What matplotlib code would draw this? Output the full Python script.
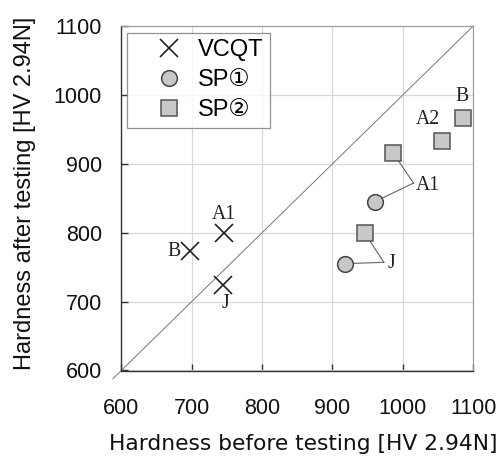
import matplotlib
matplotlib.use("Agg")
import matplotlib.pyplot as plt

plt.rcParams['font.family'] = ['Liberation Sans', 'DejaVu Sans', 'Noto Sans CJK JP']

vcqt_x = [746, 698, 744]
vcqt_y = [799, 773, 724]
vcqt_lab = ["A1", "B", "J"]

sp1_x = [960, 918]
sp1_y = [845, 755]
sp1_lab = ["A1", "J"]

sp2_x = [986, 1056, 1086, 946]
sp2_y = [916, 933, 966, 799]
sp2_lab = ["A1", "A2", "B", "J"]

ticks = [600, 700, 800, 900, 1000, 1100]

W, H = 503, 459
fig = plt.figure(figsize=(W / 100, H / 100), dpi=100)
L, R, T, B = 121.3, 473.3, 26.0, 370.5
ax = fig.add_axes([L / W, 1 - B / H, (R - L) / W, (B - T) / H])
ax.set_xlim(600, 1100)
ax.set_ylim(600, 1100)
ax.set_xticks(ticks)
ax.set_yticks(ticks)
ax.grid(True, color='#d8d8d8', linewidth=0.9, zorder=0)
ax.set_axisbelow(True)
ax.plot([588, 1100], [588, 1100], color='#777777', linewidth=0.7, zorder=1,
        clip_on=False)

ax.plot(vcqt_x, vcqt_y, linestyle='none', marker='x', markersize=12.5,
        markeredgewidth=1.2, color='#222222', label='VCQT', zorder=4)
ax.plot(sp1_x, sp1_y, linestyle='none', marker='o', markersize=11.3,
        markerfacecolor='#c8c8c8', markeredgecolor='#444444', markeredgewidth=1.1,
        label='SP①', zorder=4)
ax.plot(sp2_x, sp2_y, linestyle='none', marker='s', markersize=12,
        markerfacecolor='#c8c8c8', markeredgecolor='#555555', markeredgewidth=1.1,
        label='SP②', zorder=4)

serif = dict(family='Liberation Serif', fontsize=14.2, color='#222222')
# VCQT labels
ax.text(vcqt_x[0], 827, vcqt_lab[0], ha='center', va='center', **serif)
ax.text(684, vcqt_y[1], vcqt_lab[1], ha='right', va='center', **serif)
ax.text(vcqt_x[2] + 4, 697, vcqt_lab[2], ha='center', va='center', **serif)
# SP2 A2, B labels
ax.text(1036, 964, sp2_lab[1], ha='center', va='center', **serif)
ax.text(1084, 997, sp2_lab[2], ha='center', va='center', **serif)

# leader lines for A1 and J
lc = '#666666'
jA = (1015, 872)
ax.plot([jA[0], sp2_x[0]], [jA[1], sp2_y[0]], color=lc, linewidth=0.8, zorder=3)
ax.plot([jA[0], sp1_x[0]], [jA[1], sp1_y[0]], color=lc, linewidth=0.8, zorder=3)
ax.text(1018, 868, "A1", ha='left', va='center', **serif)
jJ = (973, 757)
ax.plot([jJ[0], sp2_x[3]], [jJ[1], sp2_y[3]], color=lc, linewidth=0.8, zorder=3)
ax.plot([jJ[0], sp1_x[1]], [jJ[1], sp1_y[1]], color=lc, linewidth=0.8, zorder=3)
ax.text(978, 755, "J", ha='left', va='center', **serif)

for s in ['top', 'right']:
    ax.spines[s].set_color('#999999')
    ax.spines[s].set_linewidth(0.8)
for s in ['left', 'bottom']:
    ax.spines[s].set_color('#333333')
    ax.spines[s].set_linewidth(1.0)
ax.tick_params(direction='in', length=5, width=1, colors='#333333',
               labelsize=15.5, labelcolor='#111111')
ax.tick_params(axis='x', pad=20)
ax.tick_params(axis='y', pad=14)

ax.set_xlabel('Hardness before testing [HV 2.94N]', fontsize=15.7,
              family=['DejaVu Sans'], color='#111111')
ax.xaxis.set_label_coords(((L + R) / 2 + 6 - L) / (R - L), -(444 - B) / (B - T))
ax.xaxis.label.set_va('center')
ax.set_ylabel('Hardness after testing [HV 2.94N]', fontsize=17, color='#111111')
ax.yaxis.set_label_coords((25 - L) / (R - L), 1 - (193.5 - T) / (B - T))
ax.yaxis.label.set_va('center')

leg = ax.legend(loc='upper left',
                bbox_to_anchor=((127.3 - L) / (R - L), 1 - (32.7 - T) / (B - T)),
                borderaxespad=0, fontsize=17,
                frameon=True, fancybox=False, edgecolor='#777777',
                handletextpad=-0.3, borderpad=0.28, labelspacing=0.34,
                handlelength=3.0)
leg.get_frame().set_linewidth(0.9)

fig.savefig('out.png', dpi=100)
